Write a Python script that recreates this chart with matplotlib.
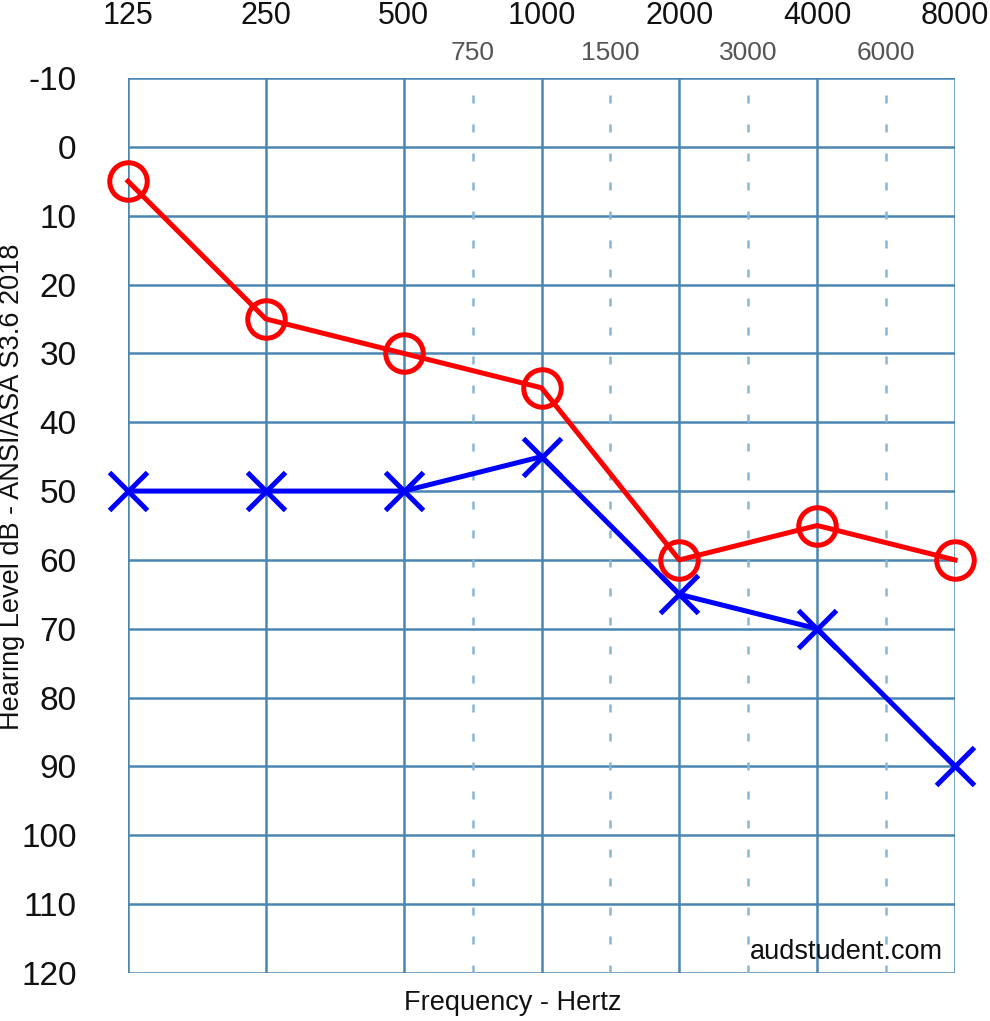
import matplotlib.pyplot as plt
import numpy as np

plt.rcParams['font.family'] = ['Liberation Sans', 'DejaVu Sans']

# ── Data ───────────────────────────────────────────────────────────────────────
octave_freqs = [125, 250, 500, 1000, 2000, 4000, 8000]
inter_freqs = [750, 1500, 3000, 6000]
right_ear = [5, 25, 30, 35, 60, 55, 60]     # red circles
left_ear = [50, 50, 50, 45, 65, 70, 90]     # blue crosses
db_ticks = list(range(-10, 130, 10))

# positions on an octave scale (inter-octave lines sit half way)
oct_pos = np.arange(len(octave_freqs))
inter_pos = [octave_freqs.index(int(f / 1.5)) + 0.5 for f in inter_freqs]

grid_col = "#4a86b3"
dash_col = "#88b6d6"

fig = plt.figure(figsize=(9.9, 10.21), dpi=100)
ax = fig.add_axes([128 / 990, 1 - 973 / 1021, (955 - 128) / 990, (973 - 78) / 1021])

ax.set_xlim(oct_pos[0], oct_pos[-1])
ax.set_ylim(db_ticks[-1], db_ticks[0])

for y in db_ticks:
    ax.axhline(y, color=grid_col, lw=1.8, zorder=1)
for x in oct_pos:
    ax.axvline(x, color=grid_col, lw=1.8, zorder=1)
for x in inter_pos:
    ax.axvline(x, color=dash_col, lw=1.8, zorder=1, dashes=(3.2, 8.4))

for s in ax.spines.values():
    s.set_visible(False)

ax.plot(oct_pos, right_ear, color="red", lw=3.6, marker="o", ms=27, mfc="none",
        mec="red", mew=3.6, zorder=3, clip_on=False)
ax.plot(oct_pos, left_ear, color="blue", lw=3.6, marker="x", ms=28, mec="blue",
        mew=3.6, zorder=3, clip_on=False)

ax.set_yticks(db_ticks)
ax.set_yticklabels([str(v) for v in db_ticks], fontsize=24, color="#111111")
ax.tick_params(axis="y", length=0, pad=37)
ax.set_xticks([])

# top frequency labels
for x, f in zip(oct_pos, octave_freqs):
    ax.text(x, 1.069, str(f), transform=ax.get_xaxis_transform(), ha="center",
            va="center", fontsize=22, color="#111111")
for x, f in zip(inter_pos, inter_freqs):
    ax.text(x, 1.028, str(f), transform=ax.get_xaxis_transform(), ha="center",
            va="center", fontsize=19, color="#555555")

fig.text(12 / 990, 1 - 487 / 1021, "Hearing Level dB - ANSI/ASA S3.6 2018", rotation=90,
         ha="center", va="center", fontsize=19.5, color="#111111")
fig.text(513 / 990, 1 - 1003 / 1021, "Frequency - Hertz", ha="center", va="center",
         fontsize=19.5, color="#111111")
ax.text(0.985, 0.024, "audstudent.com", transform=ax.transAxes, ha="right", va="center",
        fontsize=19.5, color="#111111", zorder=4)

fig.savefig("out.png", dpi=100)
